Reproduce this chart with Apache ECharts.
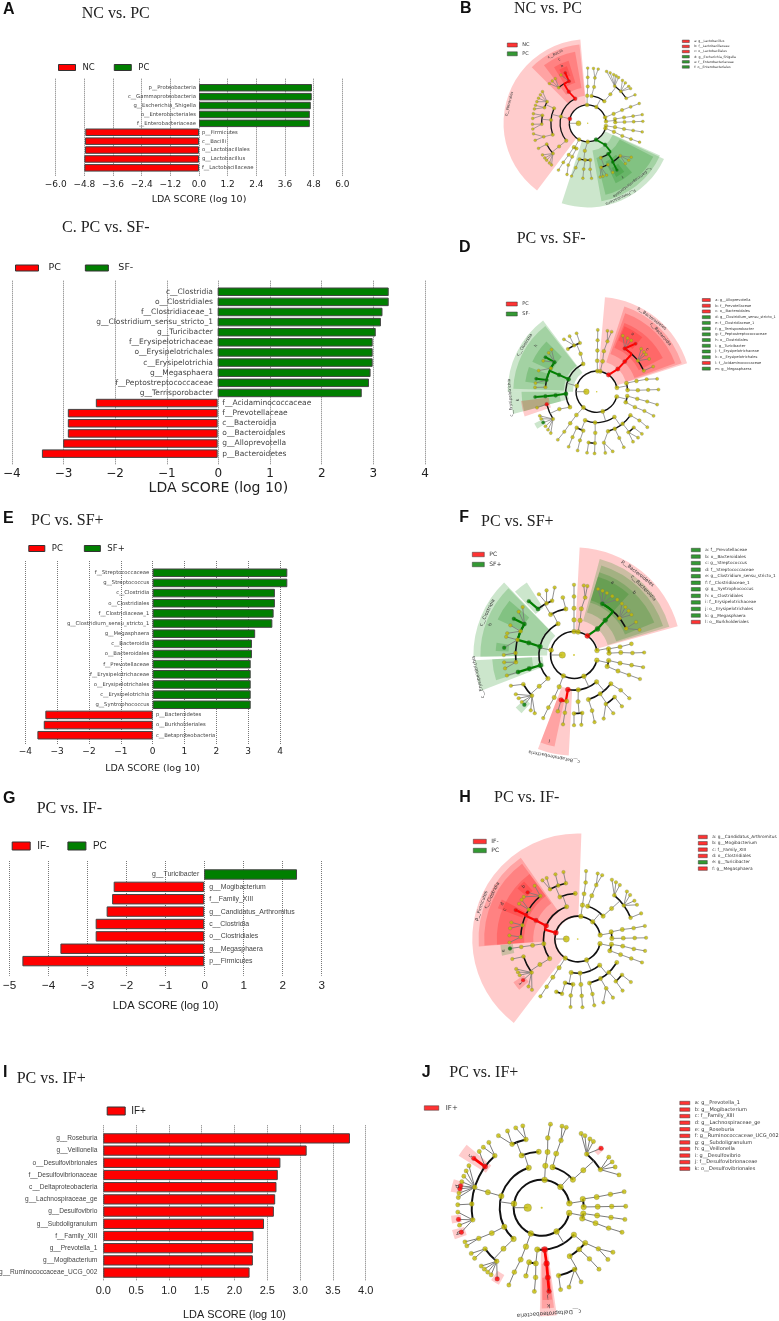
<!DOCTYPE html>
<html>
<head>
<meta charset="utf-8">
<title>LDA scores and cladograms</title>
<style>
  html, body { margin: 0; background: #fff; }
  #main { width: 779px; height: 1321px; }
</style>
<script src="https://cdn.jsdelivr.net/npm/echarts@6/dist/echarts.min.js"></script>
</head>
<body>
<div id="main"></div>
<script>
// ---- bar panels: taxa and LDA scores, top bar first ----
const catsA = ['p__Proteobacteria','c__Gammaproteobacteria','g__Escherichia_Shigella','o__Enterobacteriales','f__Enterobacteriaceae','p__Firmicutes','c__Bacilli','o__Lactobacillales','g__Lactobacillus','f__Lactobacillaceae'];
const valsA = [4.73,4.72,4.68,4.64,4.64,-4.76,-4.77,-4.77,-4.80,-4.80];
const catsC = ['c__Clostridia','o__Clostridiales','f__Clostridiaceae_1','g__Clostridium_sensu_stricto_1','g__Turicibacter','f__Erysipelotrichaceae','o__Erysipelotrichales','c__Erysipelotrichia','g__Megasphaera','f__Peptostreptococcaceae','g__Terrisporobacter','f__Acidaminococcaceae','f__Prevotellaceae','c__Bacteroidia','o__Bacteroidales','g__Alloprevotella','p__Bacteroidetes'];
const valsC = [3.30,3.30,3.18,3.15,3.05,2.99,2.99,2.99,2.95,2.92,2.78,-2.35,-2.89,-2.89,-2.89,-2.98,-3.39];
const catsE = ['f__Streptococcaceae','g__Streptococcus','c__Clostridia','o__Clostridiales','f__Clostridiaceae_1','g__Clostridium_sensu_stricto_1','g__Megasphaera','c__Bacteroidia','o__Bacteroidales','f__Prevotellaceae','f__Erysipelotrichaceae','o__Erysipelotrichales','c__Erysipelotrichia','g__Syntrophococcus','p__Bacteroidetes','o__Burkholderiales','c__Betaproteobacteria'];
const valsE = [4.23,4.23,3.84,3.84,3.80,3.76,3.22,3.12,3.12,3.08,3.08,3.08,3.08,3.08,-3.37,-3.42,-3.62];
const catsG = ['g__Turicibacter','g__Mogibacterium','f__Family_XIII','g__Candidatus_Arthromitus','c__Clostridia','o__Clostridiales','g__Megasphaera','p__Firmicutes'];
const valsG = [2.37,-2.31,-2.35,-2.49,-2.77,-2.77,-3.67,-4.64];
const catsI = ['g__Roseburia','g__Veillonella','o__Desulfovibrionales','f__Desulfovibrionaceae','c__Deltaproteobacteria','g__Lachnospiraceae_ge','g__Desulfovibrio','g__Subdoligranulum','f__Family_XIII','g__Prevotella_1','g__Mogibacterium','g__Ruminococcaceae_UCG_002'];
const valsI = [3.76,3.10,2.70,2.66,2.64,2.62,2.60,2.45,2.29,2.28,2.28,2.23];

// ---- cladograms: [level, angle, mark], depth first, a node's parent is the last node one level up ----
const treeB = [[1,180],
  [2,92],[3,91],[4,90],[5,90],[6,90],
  [2,62],[3,82],[4,80],[5,81],[6,79],[6,84],
  [3,53],[4,52],[5,54],[6,70],[6,66],[6,62],[6,59],[6,56],[5,44],[6,51],[6,47],[6,42],[6,39],[5,33],[6,31],
  [2,19],[3,20],[4,21],[5,21],[6,21],
  [2,6],[3,9],[4,9],[5,9],[6,9],[3,2],[4,2],[5,2],[6,2],
  [2,-8],[3,-8],[4,-9],[5,-9],[6,-9],
  [2,-16],[3,-18],[4,-20],[5,-20],[6,-20],
  [2,297,'g'],[3,309,'g'],[4,304,'g'],[5,303,'g'],[6,302,'g'],[5,315],[6,322],[6,318],[6,313],
  [4,291],[5,287],[6,283],[6,286],[6,290],[5,296],[6,297],
  [2,270],[3,264],[4,266],[5,265],[6,265],[4,274],[5,273],[6,274],[4,257],[5,255],[6,253],
  [2,242],[3,240],[4,239],[5,238],[6,238],[3,246],[4,245],[5,245],[6,248],
  [2,166,'r'],[3,117,'r'],[4,121,'r'],[5,114,'r'],[6,114,'r'],[6,119],[5,129],[6,126],[6,130],[6,134],
  [3,166],[4,156],[5,152],[6,145],[6,149],[6,153],[6,157],[5,160],[6,161],[6,165],
  [4,175],[5,170],[6,170],[6,175],[5,181],[6,181],[6,186],
  [4,198],[5,197],[6,191],[6,198],
  [3,219],[4,219],[5,207],[6,207],[5,221],[6,215],[6,219],[6,222],[6,226],[6,229]];
const shadeB = [[95,233,2,9.15,'r'],[96,135,3,8.6,'r'],[100,127,3.9,7.9,'r'],[107,121,4.6,7.1,'r'],[110,118,5.5,6.6,'r'],
  [252,335,2,9.15,'g'],[280,336,3,8.6,'g'],[284,333,3.9,8,'g'],[295,312,4.6,7.2,'g'],[298,307,5.5,6.6,'g']];
const tagsB = [['p__Firmicutes',8.8,166],['c__Bacilli',8.3,115],['c',7.6,114],['b',6.8,114],
  ['c__Gammaproteobacteria',8.05,307],['p__Proteobacteria',8.8,294],['f',6.9,303]];
const keyB = [['a: g__Lactobacillus','r'],['b: f__Lactobacillaceae','r'],['c: o__Lactobacillales','r'],['d: g__Escherichia_Shigella','g'],['e: f__Enterobacteriaceae','g'],['f: o__Enterobacteriales','g']];

const treeD = [[1,180],
  [2,88],[3,89],[4,89],[5,89],[6,89],
  [2,80],[3,79],[4,80],[5,78],[6,80],[6,76],
  [2,55,'r'],[3,47,'r'],[4,47,'r'],[5,57,'r'],[6,65],[6,60],[6,56],[6,51,'r'],[5,37],[6,44],[6,40],[6,37],[6,32],[5,24],[6,24],
  [2,11],[3,16],[4,15],[5,14],[6,12],[3,3],[4,2],[5,2],[6,2],
  [2,-14],[3,-8],[4,-10],[5,-11],[6,-12],[3,-20],[4,-22],[5,-22],[6,-23],
  [2,287],[3,305],[4,296],[5,296],[6,296],[4,309],[5,308],[6,306],[6,312],[5,316],[6,317],[4,325],[5,326],[6,325],[4,286],[5,278],[6,278],[6,285],
  [3,267],[4,268],[5,268],[6,268],[5,261],[6,261],
  [3,248],[4,241],[5,242],[6,243],[4,251],[5,251],[6,252],
  [2,230],[3,229],[4,230],[5,231],[6,231],
  [2,164],[3,156,'g'],[4,156,'g'],[5,145,'g'],[6,146,'g'],[6,141],[6,137],[6,150],[5,153],[6,160],[5,167,'g'],[6,168,'g'],[6,172],[5,175],[6,176],
  [3,184,'g'],[4,185,'g'],[5,185,'g'],[6,185,'g'],
  [3,210],[4,205],[5,194,'r'],[6,195],[5,212],[6,203],[6,206],[6,210,'g'],[6,214],[6,218],[6,222],
  [3,116],[4,113],[5,109],[6,109],[5,116],[6,116],[6,122],[5,124]];
const shadeD = [[17.5,85,2.1,9.2,'r'],[18.5,72,3,8.7,'r'],[20,70,3.9,8.1,'r'],[27,68,4.6,7.2,'r'],[50,67,5.4,6.9,'r'],
  [127,180,2.3,8.65,'g'],[128,178,3.2,8.1,'g'],[135,155,4.8,6.9,'g'],[160,172,4.9,7,'g'],
  [180,195,2.8,8.4,'g'],[180,195,3.6,7.3,'g'],[187,199,4.7,7.4,'r'],[207,212,5.8,6.8,'g']];
const tagsD = [['p__Bacteroidetes',8.9,53],['c__Bacteroidia',8.35,42],['a',6.6,58],['c',6.4,40],
  ['c__Clostridia',8.35,147],['c__Erysipelotrichia',8.4,184],['h',7.4,143],['k',7.7,186]];
const keyD = [['a: g__Alloprevotella','r'],['b: f__Prevotellaceae','r'],['c: o__Bacteroidales','r'],['d: g__Clostridium_sensu_stricto_1','g'],['e: f__Clostridiaceae_1','g'],['f: g__Terrisporobacter','g'],['g: f__Peptostreptococcaceae','g'],['h: o__Clostridiales','g'],['i: g__Turicibacter','g'],['j: f__Erysipelotrichaceae','g'],['k: o__Erysipelotrichales','g'],['l: f__Acidaminococcaceae','r'],['m: g__Megasphaera','g']];

const treeF = [[1,180],
  [2,90],[3,90],[4,90],[5,90],[6,90],
  [2,80],[3,80],[4,81],[5,79],[6,82],[6,79],
  [2,55,'r'],[3,48,'g'],[4,48,'g'],[5,61,'g'],[6,70],[6,66],[6,62],[6,57],[6,52],[5,39],[6,47],[6,43],[6,39],[6,35],[5,27],[6,28],[6,21],
  [2,11],[3,10],[4,10],[5,11],[3,3],[4,3],[5,2],[6,2],
  [2,-13],[3,-9],[4,-10],[5,-10],[6,-10],[3,-19],[4,-20],[5,-20],[6,-20],
  [2,295],[3,310],[4,322],[5,323],[6,322],[4,304],[5,314],[6,313],[5,303],[6,304],[6,295],[4,288],[5,288],[6,287],
  [3,277],[4,275],[5,270],[6,270],[5,278],[6,276],
  [3,260,'r'],[4,254,'r'],[5,254],[4,261],[5,261],[6,261],
  [2,243],[3,245],[4,245],[5,244],[6,244],
  [2,168],[3,166,'g'],[4,165,'g'],[5,148,'g'],[6,149,'g'],[6,142],[6,137],[5,156],[6,162],[6,155],[5,165],[6,165],[6,174,'g'],[5,178],[6,180],[5,187],[6,186],[6,191],
  [3,197,'g'],[4,197,'g'],[5,197,'g'],[6,197],
  [3,222],[4,222],[5,210],[6,206],[5,224],[6,214],[6,218],[6,222],[6,225,'g'],[6,232],[6,236],
  [3,117],[4,120],[5,128,'g'],[6,130,'g'],[5,118],[6,120],[6,113],[5,112],[6,106],[4,100],[5,101]];
const shadeF = [[15.5,87,2.1,9.2,'r'],[16.5,75,3,8.5,'g'],[18,73,3.8,8,'g'],[22,73,4.7,7.4,'g'],[48,73,4.9,7,'g'],
  [134,181,2.3,8.6,'g'],[134.5,181,3.1,8,'g'],[140,155,5,7.2,'g'],[171,177,5.6,6.7,'g'],[123,133,4.8,7.4,'g'],
  [183,201,2.7,8.5,'g'],[183,198,3.6,7,'g'],[249,267,2.9,8.6,'r'],[249,258,3.9,8,'r'],[222,228,5.6,6.7,'g']];
const tagsF = [['p__Bacteroidetes',8.85,52],['c__Bacteroidia',8.25,44],['a',7,62],['b',7.4,46],
  ['c__Clostridia',8.25,154],['c__Erysipelotrichia',8.4,193],['h',7.6,160],['c__Betaproteobacteria',8.85,259],['l',7.6,254]];
const keyF = [['a: f__Prevotellaceae','g'],['b: o__Bacteroidales','g'],['c: g__Streptococcus','g'],['d: f__Streptococcaceae','g'],['e: g__Clostridium_sensu_stricto_1','g'],['f: f__Clostridiaceae_1','g'],['g: g__Syntrophococcus','g'],['h: o__Clostridiales','g'],['i: f__Erysipelotrichaceae','g'],['j: o__Erysipelotrichales','g'],['k: g__Megasphaera','g'],['l: o__Burkholderiales','r']];

const treeH = [[1,180],
  [2,82],[3,82],[4,82],[5,82],[6,83],
  [2,49],[3,73],[4,72],[5,71],[6,73],[6,69],
  [3,42],[4,42],[5,50],[6,60],[6,56],[6,52],[5,36],[6,44],[6,40],[6,34],[6,30],[5,22],[6,22],
  [2,10],[3,12],[4,12],[5,11],[6,11],[3,1],[4,1],[5,1],[6,1],
  [2,-12],[3,-9],[4,-9],[5,-10],[6,-10],[3,-20],[4,-20],[5,-20],[6,-20],
  [2,293],[3,310],[4,329],[4,313],[5,321],[6,321],[5,312],[6,311],[4,300],[5,300],[6,301],[6,292],[4,285],[5,285],[6,284],
  [3,274],[4,274],[5,274],[6,274],
  [3,259],[4,254],[5,248],[5,254],[4,264],[5,263],[6,264],
  [2,237],[3,237],[4,237],[5,237],[6,237],
  [2,164,'r'],[3,157,'r'],[4,156,'r'],[5,131],[6,129],[6,137,'r'],[6,142],[5,149],[6,145],[6,149],[5,155,'r'],[6,155,'r'],[5,166],[6,166],[6,171],[5,178],[6,177],[6,183],
  [3,188],[4,188],[5,188],[6,188,'g'],
  [3,215],[4,214],[5,198],[6,197],[5,216],[6,206],[6,209],[6,212],[6,217,'r'],[6,224],[6,228],
  [3,109],[4,113],[5,119],[6,121],[6,117],[5,110],[6,109],[5,102],[6,102],[4,93]];
const shadeH = [[88,232.7,1.9,9.25,'r'],[125,184.3,2.9,8.7,'r'],[126.5,184,3.9,8.2,'r'],[126.5,184,4.7,7.1,'r'],
  [133,140,5.8,6.9,'r'],[152.5,159,5.2,7.5,'r'],[184.5,192.5,5.7,6.8,'g'],[214,221,5.7,6.8,'r']];
const tagsH = [['p__Firmicutes',8.95,161],['c__Clostridia',8.45,153],['d',7.3,155],['c',6.9,158],['e',6.6,189],['f',6.3,218],['b',6.6,136]];
const keyH = [['a: g__Candidatus_Arthromitus','r'],['b: g__Mogibacterium','r'],['c: f__Family_XIII','r'],['d: o__Clostridiales','r'],['e: g__Turicibacter','g'],['f: g__Megasphaera','r']];

const treeJ = [[1,180],
  [2,84],[3,85],[4,84],[5,85],[6,84],
  [2,48],[3,75],[4,75],[5,74],[6,76],[6,73],
  [3,42],[4,42],[5,50],[6,62],[6,59],[6,55],[6,52],[6,45,'r'],[5,33],[6,37],[6,33],[6,29],[6,23],
  [2,9],[3,12],[4,11],[5,11],[6,11],[3,1],[4,1],[5,1],[6,1],
  [2,-11],[3,-8],[4,-8],[5,-8],[6,-8],[3,-15],[4,-16],[5,-17],[6,-17],
  [2,302],[3,320],[4,321],[5,324],[6,322],[6,328],[4,312],[5,313],[6,313],[4,300],[5,298],[6,298],[6,289],[5,284],[6,283],
  [3,274,'r'],[4,275,'r'],[5,275,'r'],[6,275,'r'],
  [3,264],[4,257],[5,257],[4,264],[5,265],[6,265],
  [2,247],[3,248],[4,248],[5,247],[6,247],
  [2,172],[3,164],[4,164],[5,132],[6,129],[6,134],[5,144,'r'],[6,144,'r'],[6,138],[5,163],[6,150],[6,154],[6,158],[6,162],[6,165,'r'],[6,167,'r'],[6,170],[6,173],
  [5,177],[6,178],[5,190],[6,183],[6,188,'r'],[6,192],[6,197,'r'],
  [3,207],[4,207],[5,206],[6,204],[6,207],
  [3,228],[4,227],[5,216],[6,213],[6,217],[5,230],[6,224],[6,227],[6,230],[6,233],[6,238,'r'],
  [3,108],[4,111],[5,115],[6,114],[6,121],[5,103],[6,103],[6,108],[4,93]];
const shadeJ = [[269,278,2.8,7.75,'r'],[270,277,4,7.2,'r'],[270.5,276.5,5,6.6,'r'],
  [140,148,4.7,7,'r'],[162,170,5.8,6.6,'r'],[185,190,5.8,6.5,'r'],[194,200,5.7,6.6,'r'],[235,241,5.5,6.3,'r'],[43,47,5.5,6.1,'r']];
const tagsJ = [['c__Deltaproteobacteria',7.55,274],['k',7,274],['j',6.4,274],['i',5.9,275],['c',6.3,144],['d',6.2,166],['h',6.2,197]];
const keyJ = [['a: g__Prevotella_1','r'],['b: g__Mogibacterium','r'],['c: f__Family_XIII','r'],['d: g__Lachnospiraceae_ge','r'],['e: g__Roseburia','r'],['f: g__Ruminococcaceae_UCG_002','r'],['g: g__Subdoligranulum','r'],['h: g__Veillonella','r'],['i: g__Desulfovibrio','r'],['j: f__Desulfovibrionaceae','r'],['k: o__Desulfovibrionales','r']];

const RED = '#ff0000', GREEN = '#007f00', OLIVE = '#c4bc00';
const NARROW = '"Liberation Sans",sans-serif';
const DEJAVU = '"DejaVu Sans",sans-serif';

var grids = [], xAxes = [], yAxes = [], polars = [], angles = [], radii = [], legends = [], series = [], titles = [];

// panel letter + panel heading
function addHead(letter, lx, ly, text, tx, ty, size) {
  if (letter) titles.push({ text: letter, left: lx, top: ly - 7, padding: 0, textStyle: { fontFamily: '"Liberation Sans"', fontWeight: 'bold', fontSize: 16, color: '#111' } });
  titles.push({ text: text, left: tx, top: ty - size * 0.55 + 2, padding: 0, textStyle: { fontFamily: '"Liberation Serif"', fontWeight: 'normal', fontSize: size, color: '#222' } });
}

function addBars(b) {
  // outer grid carries the ticks and dotted lines, inner grid the bars (dotted lines run past the bars)
  var g = grids.length;
  grids.push({ left: b.x0, top: b.top, width: b.x1 - b.x0, height: b.bottom - b.top });
  xAxes.push({
    gridIndex: g, type: 'value', min: b.min, max: b.max, interval: b.step,
    axisLine: { show: false }, axisTick: { show: false },
    splitLine: { show: true, lineStyle: { type: 'dotted', color: '#777', width: 1 } },
    axisLabel: { margin: b.tickGap, fontFamily: b.font, fontSize: b.tickSize, color: '#222',
      formatter: function (v) { return v.toFixed(b.digits).replace('-', '\u2212'); } },
    name: 'LDA SCORE (log 10)', nameLocation: 'middle', nameGap: b.nameGap,
    nameTextStyle: { fontFamily: b.font, fontSize: b.nameSize, color: '#222' }
  });
  yAxes.push({ gridIndex: g, type: 'value', show: false });

  var barMax = b.barMax === undefined ? b.max : b.barMax;
  var w = (b.x1 - b.x0) * (barMax - b.min) / (b.max - b.min);
  grids.push({ left: b.x0, top: b.barTop, width: w, height: b.barBottom - b.barTop });
  xAxes.push({ gridIndex: g + 1, type: 'value', min: b.min, max: barMax, show: false, splitLine: { show: false } });
  yAxes.push({ gridIndex: g + 1, type: 'category', inverse: true, data: b.cats, show: false });

  var names = [];
  b.groups.forEach(function (grp) {
    var name = b.id + '|' + grp.name;
    names.push(name);
    series.push({
      type: 'bar', name: name, xAxisIndex: g + 1, yAxisIndex: g + 1, barWidth: '84%', barGap: '-100%', z: 3,
      data: b.vals.map(function (v) { return (grp.sign > 0) === (v > 0) ? v : null; }),
      itemStyle: { color: grp.color, borderColor: '#444', borderWidth: 1 },
      label: { show: true, position: grp.sign > 0 ? 'left' : 'right', distance: b.labelGap,
        fontFamily: b.font, fontSize: b.labelSize, color: '#444',
        formatter: function (p) { return p.name; } },
      silent: true
    });
  });
  legends.push({
    left: b.lgX, top: b.lgY, itemWidth: b.lgW, itemHeight: b.lgH, itemGap: b.lgGap, padding: 0, icon: 'rect',
    selectedMode: false, data: names, itemStyle: { borderColor: '#333', borderWidth: 1 },
    formatter: function (n) { return n.split('|')[1]; },
    textStyle: { fontFamily: b.font, fontSize: b.lgSize, color: '#222', padding: [0, 0, 0, b.lgPad] }
  });
}

function addClado(c) {
  var p = polars.length, pitch = c.pitch;
  polars.push({ center: [c.cx, c.cy], radius: pitch * 10 });
  angles.push({ polarIndex: p, type: 'value', min: 0, max: 360, startAngle: 0, clockwise: false, show: false });
  radii.push({ polarIndex: p, type: 'value', min: 0, max: 10, show: false });

  // parent links from the depth-first list
  var last = {}, nodes = c.tree.map(function (r) {
    var n = { L: r[0], a: (r[1] + 360) % 360, mark: r[2], kids: [] };
    if (last[n.L - 1]) last[n.L - 1].kids.push(n);
    last[n.L] = n;
    return n;
  });

  var rows = [], thin = '#777', tw = Math.max(0.6, pitch * 0.07), arcw = pitch * 0.14;
  var col = function (m) { return m === 'r' ? RED : GREEN; };
  nodes.forEach(function (n) {
    if (!n.kids.length) return;
    var kl = n.kids[0].L;
    if (n.kids.length === 1 || n.L >= 5) {
      n.kids.forEach(function (k) {
        var hot = k.mark && n.mark;
        rows.push({ t: 'line', l0: n.L, a0: n.a, l1: k.L, a1: k.a, c: hot ? col(k.mark) : thin, w: hot ? arcw * 1.4 : tw });
      });
    } else {
      var as = n.kids.map(function (k) { return k.a; }).concat(n.a);
      // only a short step between two marked nodes is coloured, long arcs stay black
      var near = n.kids.filter(function (k) { return k.mark && n.mark && Math.abs(k.a - n.a) < 20; });
      rows.push({ t: 'arc', l: kl, a0: Math.min.apply(null, as), a1: Math.max.apply(null, as), c: '#111', w: arcw });
      rows.push({ t: 'line', l0: n.L, a0: n.a, l1: kl, a1: n.a, c: near.length ? col(near[0].mark) : thin, w: near.length ? arcw * 1.4 : tw });
      near.forEach(function (k) {
        rows.push({ t: 'arc', l: kl, a0: Math.min(k.a, n.a), a1: Math.max(k.a, n.a), c: col(k.mark), w: arcw * 1.4 });
      });
    }
  });

  var toRad = Math.PI / 180;
  series.push({
    type: 'custom', coordinateSystem: 'polar', polarIndex: p, silent: true, z: 1,
    data: c.shades.map(function (s) { return [s[3], s[0]]; }),
    renderItem: function (params, api) {
      var s = c.shades[params.dataIndex], o = api.coord([0, 0]);
      return { type: 'sector', shape: { cx: o[0], cy: o[1], r0: s[2] * pitch, r: s[3] * pitch,
        startAngle: -s[1] * toRad, endAngle: -s[0] * toRad, clockwise: true },
        style: { fill: s[4] === 'r' ? 'rgba(255,0,0,0.2)' : 'rgba(0,128,0,0.2)' } };
    }
  });
  series.push({
    type: 'custom', coordinateSystem: 'polar', polarIndex: p, silent: true, z: 2,
    data: rows.map(function (r) { return [r.t === 'arc' ? r.l : r.l1, r.a0]; }),
    renderItem: function (params, api) {
      var r = rows[params.dataIndex], o = api.coord([0, 0]);
      if (r.t === 'arc') {
        return { type: 'arc', shape: { cx: o[0], cy: o[1], r: r.l * pitch, startAngle: -r.a1 * toRad, endAngle: -r.a0 * toRad, clockwise: true },
          style: { stroke: r.c, lineWidth: r.w, fill: null } };
      }
      var p0 = api.coord([r.l0, r.a0]), p1 = api.coord([r.l1, r.a1]);
      return { type: 'line', shape: { x1: p0[0], y1: p0[1], x2: p1[0], y2: p1[1] }, style: { stroke: r.c, lineWidth: r.w } };
    }
  });
  var dia = [0.15, 0.55, 0.42, 0.4, 0.38, 0.35, 0.31];
  series.push({
    type: 'scatter', coordinateSystem: 'polar', polarIndex: p, silent: true, z: 4,
    symbolSize: function (v) { return v[2]; },
    data: [{ value: [0, 0, pitch * dia[0]], itemStyle: { color: OLIVE, borderWidth: 0 } }].concat(nodes.map(function (n) {
      return { value: [n.L, n.a, pitch * dia[n.L] * (n.mark ? 1.1 : 1)],
        itemStyle: { color: n.mark ? col(n.mark) : OLIVE, borderColor: '#666', borderWidth: 0.3 } };
    }))
  });
  series.push({
    type: 'custom', coordinateSystem: 'polar', polarIndex: p, silent: true, z: 5,
    data: c.tags.map(function (t) { return [t[1], t[2]]; }),
    renderItem: function (params, api) {
      var t = c.tags[params.dataIndex], q = api.coord([t[1], t[2]]);
      return { type: 'text', x: q[0], y: q[1], rotation: (t[2] - 90) * toRad,
        style: { text: t[0], font: (pitch * 0.4).toFixed(1) + 'px ' + DEJAVU, fill: '#333', align: 'center', verticalAlign: 'middle' } };
    }
  });

  // legends: empty series so the library's legend draws the swatches
  var addLegend = function (items, lg) {
    var names = items.map(function (it) {
      var name = c.id + lg.tag + '|' + it[0];
      series.push({ type: 'scatter', name: name, coordinateSystem: 'polar', polarIndex: p, data: [], itemStyle: { color: it[1] === 'r' ? RED : GREEN } });
      return name;
    });
    legends.push({ left: lg.x, top: lg.y, orient: 'vertical', itemWidth: lg.w, itemHeight: lg.h, itemGap: lg.gap, padding: 0, icon: 'rect',
      selectedMode: false, data: names, itemStyle: { borderColor: '#333', borderWidth: 0.6 },
      formatter: function (n) { return n.split('|')[1]; },
      textStyle: { fontFamily: DEJAVU, fontSize: lg.size, lineHeight: lg.size + 1, color: '#333', padding: [0, 0, 0, lg.pad] } });
  };
  addLegend(c.groups, c.lg);
  addLegend(c.key, c.kg);
}

addHead('A', 3, 9, 'NC vs. PC', 81.7, 13, 16);
addHead('B', 460, 8, 'NC vs. PC', 514, 8, 16);
addHead('', 3, 0, 'C. PC vs. SF-', 62, 227, 16);
addHead('D', 459, 246.7, 'PC vs. SF-', 516.7, 238, 16);
addHead('E', 3, 517.7, 'PC vs. SF+', 31, 520, 16);
addHead('F', 459.3, 516.7, 'PC vs. SF+', 481, 520.7, 16);
addHead('G', 3, 797.7, 'PC vs. IF-', 36.7, 807.7, 16);
addHead('H', 459.3, 796.7, 'PC vs. IF-', 494, 797, 16);
addHead('I', 3, 1071.7, 'PC vs. IF+', 16.7, 1077.3, 16);
addHead('J', 421.7, 1071.7, 'PC vs. IF+', 449.3, 1072, 16);

addBars({ id: 'A', cats: catsA, vals: valsA, min: -6, max: 6, step: 1.2, digits: 1, x0: 55.7, x1: 342.3, top: 78.7, bottom: 176.7, barTop: 83.3, barBottom: 172.3,
  font: DEJAVU, tickSize: 9, tickGap: 3, nameSize: 9.5, nameGap: 18, labelSize: 5.3, labelGap: 3,
  groups: [{ name: 'NC', sign: -1, color: RED }, { name: 'PC', sign: 1, color: GREEN }],
  lgX: 58, lgY: 63, lgW: 17, lgH: 6, lgGap: 19, lgSize: 8.5, lgPad: 2 });
addBars({ id: 'C', cats: catsC, vals: valsC, min: -4, max: 4, step: 1, digits: 0, x0: 10.3, x1: 425, top: 280.7, bottom: 465, barTop: 286.7, barBottom: 458.7,
  font: DEJAVU, tickSize: 12, tickGap: 3, nameSize: 14, nameGap: 11, labelSize: 7.5, labelGap: 4.7,
  groups: [{ name: 'PC', sign: -1, color: RED }, { name: 'SF-', sign: 1, color: GREEN }],
  lgX: 15, lgY: 263, lgW: 23, lgH: 6, lgGap: 24, lgSize: 9.5, lgPad: 5 });
addBars({ id: 'E', cats: catsE, vals: valsE, min: -4, max: 4, step: 1, digits: 0, barMax: 4.5, x0: 25.3, x1: 280, top: 561, bottom: 744.3, barTop: 567.7, barBottom: 740.3,
  font: DEJAVU, tickSize: 9, tickGap: 3, nameSize: 9.5, nameGap: 19, labelSize: 5.3, labelGap: 3.3,
  groups: [{ name: 'PC', sign: -1, color: RED }, { name: 'SF+', sign: 1, color: GREEN }],
  lgX: 28.3, lgY: 544, lgW: 16, lgH: 6, lgGap: 21, lgSize: 8.5, lgPad: 2 });
addBars({ id: 'G', cats: catsG, vals: valsG, min: -5, max: 3, step: 1, digits: 0, x0: 8.3, x1: 321.7, top: 861, bottom: 975.7, barTop: 868.3, barBottom: 967.3,
  font: NARROW, tickSize: 11.7, tickGap: 4, nameSize: 11.2, nameGap: 25, labelSize: 6.9, labelGap: 5,
  groups: [{ name: 'IF-', sign: -1, color: RED }, { name: 'PC', sign: 1, color: GREEN }],
  lgX: 11.7, lgY: 841, lgW: 18, lgH: 8, lgGap: 18, lgSize: 10, lgPad: 2 });
addBars({ id: 'I', cats: catsI, vals: valsI, min: 0, max: 4, step: 0.5, digits: 1, x0: 103.3, x1: 365.7, top: 1125.3, bottom: 1286.7, barTop: 1132.3, barBottom: 1278.7,
  font: NARROW, tickSize: 11, tickGap: 4, nameSize: 10.9, nameGap: 28, labelSize: 6.6, labelGap: 6,
  groups: [{ name: 'IF+', sign: 1, color: RED }],
  lgX: 106.7, lgY: 1106, lgW: 18, lgH: 8, lgGap: 20, lgSize: 10, lgPad: 1 });

addClado({ id: 'B', tree: treeB, shades: shadeB, tags: tagsB, key: keyB, cx: 587.7, cy: 123.3, pitch: 9.2,
  groups: [['NC', 'r'], ['PC', 'g']], lg: { tag: 'l', x: 507, y: 42, w: 10, h: 4, gap: 2.8, size: 5, pad: 0 },
  kg: { tag: 'k', x: 682, y: 39.2, w: 7, h: 2.5, gap: 0.93, size: 3.2, pad: 0 } });
addClado({ id: 'D', tree: treeD, shades: shadeD, tags: tagsD, key: keyD, cx: 596.7, cy: 391.7, pitch: 10.3,
  groups: [['PC', 'r'], ['SF-', 'g']], lg: { tag: 'l', x: 506, y: 301, w: 11, h: 4, gap: 4, size: 5, pad: 0 },
  kg: { tag: 'k', x: 702, y: 297.7, w: 8, h: 3, gap: 1.12, size: 3.6, pad: 0 } });
addClado({ id: 'F', tree: treeF, shades: shadeF, tags: tagsF, key: keyF, cx: 574, cy: 655, pitch: 11.7,
  groups: [['PC', 'r'], ['SF+', 'g']], lg: { tag: 'l', x: 472, y: 551, w: 12, h: 4.5, gap: 3, size: 6, pad: 0 },
  kg: { tag: 'k', x: 691, y: 547.4, w: 9, h: 3.5, gap: 1.35, size: 4.2, pad: 0 } });
addClado({ id: 'H', tree: treeH, shades: shadeH, tags: tagsH, key: keyH, cx: 577.7, cy: 939, pitch: 11.4,
  groups: [['IF-', 'r'], ['PC', 'g']], lg: { tag: 'l', x: 473, y: 838, w: 13, h: 4.5, gap: 2, size: 6, pad: 0 },
  kg: { tag: 'k', x: 698, y: 834.3, w: 9, h: 3.5, gap: 1.03, size: 4.3, pad: 0 } });
addClado({ id: 'J', tree: treeJ, shades: shadeJ, tags: tagsJ, key: keyJ, cx: 541.7, cy: 1207.7, pitch: 14,
  groups: [['IF+', 'r']], lg: { tag: 'l', x: 424, y: 1104, w: 14.5, h: 4.5, gap: 2, size: 7, pad: 2 },
  kg: { tag: 'k', x: 679.5, y: 1100, w: 10, h: 3.5, gap: 0.57, size: 5, pad: 0 } });

var chart = echarts.init(document.getElementById('main'));
chart.setOption({
  animation: false, backgroundColor: '#fff',
  title: titles, grid: grids, xAxis: xAxes, yAxis: yAxes,
  polar: polars, angleAxis: angles, radiusAxis: radii,
  legend: legends, series: series
});
</script>
</body>
</html>
